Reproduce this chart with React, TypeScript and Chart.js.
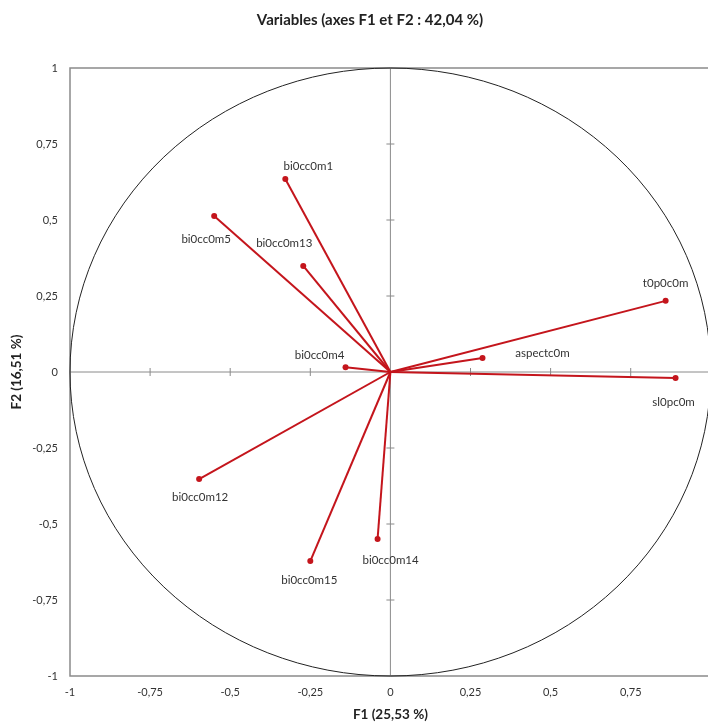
import React, { useEffect, useRef } from 'react';
import { Chart, registerables } from 'chart.js';

Chart.register(...registerables);

// ---- data ----
const chartTitle = 'Variables (axes F1 et F2 : 42,04 %)';
const xTitle = 'F1 (25,53 %)';
const yTitle = 'F2 (16,51 %)';
const variables = ['bi0cc0m1', 'bi0cc0m5', 'bi0cc0m13', 'bi0cc0m4', 'bi0cc0m12', 'bi0cc0m15', 'bi0cc0m14', 'aspectc0m', 't0p0c0m', 'sl0pc0m'];
const f1 = [-0.328, -0.55, -0.272, -0.14, -0.597, -0.25, -0.04, 0.2875, 0.859, 0.89];
const f2 = [0.635, 0.513, 0.349, 0.016, -0.352, -0.622, -0.549, 0.046, 0.234, -0.02];
const axisTicks = [-1, -0.75, -0.5, -0.25, 0, 0.25, 0.5, 0.75, 1];

// ---- label placement (pixel offsets from each point) ----
const labelDx = [23, -8, -19, -26, 1, -1, 13, 60, 0, -2];
const labelDy = [-13, 23, -23, -12, 18, 19, 21, -5, -18, 24];

const FONT = 'Lato, "Open Sans", "DejaVu Sans", sans-serif';
const RED = '#c4151c';
const GREY = '#8a8a8a';
const TEXT = '#333333';

const fmt = (v: number) => String(v).replace('.', ',');

const pcaPlugin = {
  id: 'pcaDecor',
  beforeDatasetsDraw(chart: any) {
    const { ctx, chartArea: a, scales } = chart;
    const x = scales.x;
    const y = scales.y;
    const line = (x1: number, y1: number, x2: number, y2: number) => {
      ctx.beginPath();
      ctx.moveTo(x1, y1);
      ctx.lineTo(x2, y2);
      ctx.stroke();
    };
    ctx.save();
    // frame
    ctx.strokeStyle = GREY;
    ctx.lineWidth = 1.5;
    ctx.strokeRect(a.left, a.top, a.right - a.left, a.bottom - a.top);
    // cross axes
    const x0 = x.getPixelForValue(0);
    const y0 = y.getPixelForValue(0);
    ctx.lineWidth = 1;
    line(x0, a.top, x0, a.bottom);
    line(a.left, y0, a.right, y0);
    axisTicks.forEach((t) => {
      if (t === 0 || Math.abs(t) === 1) return;
      const px = x.getPixelForValue(t);
      line(px, y0 - 4, px, y0 + 4);
      const py = y.getPixelForValue(t);
      line(x0 - 4, py, x0 + 4, py);
    });
    // correlation circle
    ctx.strokeStyle = '#222';
    ctx.lineWidth = 1;
    ctx.beginPath();
    ctx.ellipse(x0, y0, x.getPixelForValue(1) - x0, y0 - y.getPixelForValue(1), 0, 0, 2 * Math.PI);
    ctx.stroke();
    ctx.restore();
  },
  afterDatasetsDraw(chart: any) {
    const { ctx } = chart;
    ctx.save();
    ctx.font = `11.5px ${FONT}`;
    ctx.fillStyle = TEXT;
    ctx.textAlign = 'center';
    ctx.textBaseline = 'middle';
    variables.forEach((name, i) => {
      const pt = chart.getDatasetMeta(i).data[1];
      if (!pt) return;
      ctx.fillText(name, pt.x + labelDx[i], pt.y + labelDy[i]);
    });
    // chart title
    ctx.font = `bold 15px ${FONT}`;
    ctx.fillStyle = '#222';
    ctx.fillText(chartTitle, 370, 20);
    ctx.restore();
  },
};

export default function App() {
  const ref = useRef<HTMLCanvasElement | null>(null);

  useEffect(() => {
    if (!ref.current) return;
    const datasets = variables.map((name, i) => ({
      label: name,
      data: [
        { x: 0, y: 0 },
        { x: f1[i], y: f2[i] },
      ],
      showLine: true,
      borderColor: RED,
      borderWidth: 2,
      pointRadius: [0, 3],
      pointBackgroundColor: RED,
      pointBorderColor: RED,
      pointBorderWidth: 0,
    }));
    const chart = new Chart(ref.current, {
      type: 'scatter',
      data: { datasets },
      options: {
        responsive: false,
        animation: false,
        devicePixelRatio: 1,
        layout: { padding: { top: 68, right: 10, left: 0, bottom: 0 } },
        plugins: {
          legend: { display: false },
          tooltip: { enabled: false },
          title: { display: false },
        },
        scales: {
          x: {
            type: 'linear',
            min: -1,
            max: 1,
            afterFit: (s: any) => {
              s.height = 47;
            },
            afterBuildTicks: (s: any) => {
              s.ticks = axisTicks.map((v) => ({ value: v }));
            },
            ticks: {
              callback: (v: any) => fmt(Number(v)),
              font: { family: FONT, size: 11 },
              color: TEXT,
              padding: 10,
              maxRotation: 0,
              autoSkip: false,
            },
            grid: { display: false, drawTicks: false },
            border: { display: false },
            title: {
              display: true,
              text: xTitle,
              font: { family: FONT, size: 13.5, weight: 'bold' },
              color: '#222',
              padding: { top: 0, bottom: 0 },
            },
          },
          y: {
            type: 'linear',
            min: -1,
            max: 1,
            afterFit: (s: any) => {
              s.width = 70;
            },
            afterBuildTicks: (s: any) => {
              s.ticks = axisTicks.map((v) => ({ value: v }));
            },
            ticks: {
              callback: (v: any) => fmt(Number(v)),
              font: { family: FONT, size: 11 },
              color: TEXT,
              padding: 12,
              autoSkip: false,
            },
            grid: { display: false, drawTicks: false },
            border: { display: false },
            title: {
              display: true,
              text: yTitle,
              font: { family: FONT, size: 13.5, weight: 'bold' },
              color: '#222',
              padding: { top: 9, bottom: 0 },
            },
          },
        },
      },
      plugins: [pcaPlugin],
    } as any);
    return () => chart.destroy();
  }, []);

  return (
    <div
      style={{
        position: 'fixed',
        top: 0,
        left: 0,
        width: 708,
        height: 723,
        overflow: 'hidden',
        background: '#fff',
      }}
    >
      <canvas ref={ref} width={724} height={723} style={{ display: 'block', width: 724, height: 723 }} />
    </div>
  );
}
